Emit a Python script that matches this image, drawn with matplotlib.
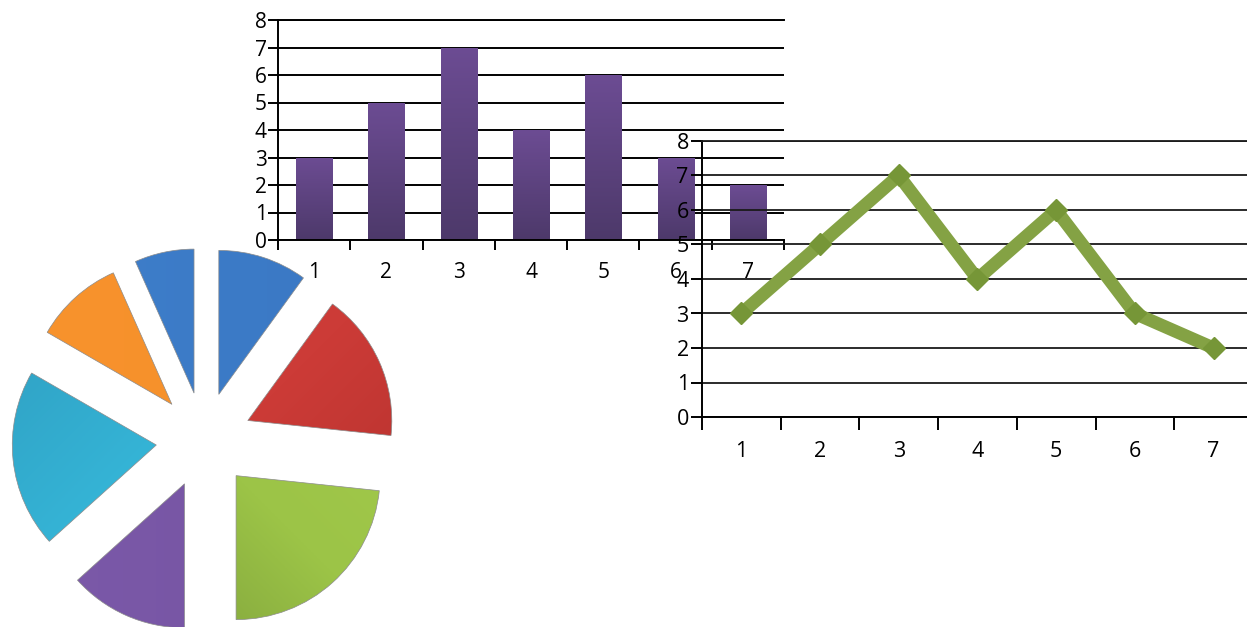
import matplotlib
matplotlib.use('Agg')
import matplotlib.pyplot as plt
import numpy as np
from matplotlib.colors import LinearSegmentedColormap

# ---------------- data ----------------
categories = ['1', '2', '3', '4', '5', '6', '7']
bar_values = [3, 5, 7, 4, 6, 3, 2]
line_values = [3, 5, 7, 4, 6, 3, 2]
pie_values = [3, 5, 7, 4, 6, 3, 2]
y_ticks = [0, 1, 2, 3, 4, 5, 6, 7, 8]
y_tick_labels = ['0', '1', '2', '3', '4', '5', '6', '7', '8']

# ---------------- style ----------------
pie_grads = [
    ['#3c7cca', '#3b79c4'],
    ['#d03e3a', '#cc3b37', '#b6322e'],
    ['#7a9b39', '#9cc447', '#a3ca4c'],
    ['#7b59a9', '#7654a2'],
    ['#2f9fc2', '#35b4d6', '#36b6d8'],
    ['#f8932d', '#f58f2a'],
    ['#3e7ecb', '#3b79c4'],
]
pie_grad_angles = [0, -45, 45, 0, -45, 0, 0]
bar_grad = ['#4d396a', '#6c4c93']
line_color = '#84a244'
marker_color = '#769637'

W, H = 1247, 627
plt.rcParams['font.family'] = ['Open Sans', 'DejaVu Sans']
fig = plt.figure(figsize=(W / 100, H / 100), dpi=100)


def px_axes(left, top, right, bottom, z):
    ax = fig.add_axes([left / W, 1 - bottom / H, (right - left) / W, (bottom - top) / H])
    ax.set_zorder(z)
    ax.patch.set_visible(False)
    return ax


def grad_image(ax, clip_patch, colors, angle_deg, extent, z):
    n = 200
    xs = np.linspace(0, 1, n)
    X, Y = np.meshgrid(xs, xs)
    a = np.deg2rad(angle_deg)
    t = X * np.cos(a) + Y * np.sin(a)
    t = (t - t.min()) / (t.max() - t.min() + 1e-12)
    cmap = LinearSegmentedColormap.from_list('g', colors)
    im = ax.imshow(t, cmap=cmap, extent=extent, origin='lower', aspect='auto',
                   interpolation='bilinear', zorder=z)
    im.set_clip_path(clip_patch)
    return im


# ---------------- pie ----------------
cx, cy, rpx = 204, 440, 144
axp = px_axes(0, 240, 400, 627, 0)
wedges, _ = axp.pie(pie_values, startangle=90, counterclock=False,
                    explode=[0.333] * len(pie_values), radius=1,
                    colors=[g[0] for g in pie_grads],
                    wedgeprops=dict(edgecolor='#8c8c8c', linewidth=0.5))
for w, g, ang in zip(wedges, pie_grads, pie_grad_angles):
    wx, wy = w.center
    r = w.r
    grad_image(axp, w, g, ang, [wx - r, wx + r, wy - r, wy + r], 1)
    w.set_facecolor('none')
    w.set_zorder(2)
axp.set_xlim((0 - cx) / rpx, (400 - cx) / rpx)
axp.set_ylim(-(627 - cy) / rpx, (cy - 240) / rpx)
axp.set_aspect('auto')
axp.axis('off')

# ---------------- bar chart ----------------
bx0, bx1, by8, by0 = 278, 784, 20, 240
axb = px_axes(bx0, by8, bx1, by0, 1)
x = np.arange(1, len(categories) + 1)
bars = axb.bar(x, bar_values, width=0.5, color=bar_grad[1], zorder=2)
for b in bars:
    bxl = b.get_x()
    grad_image(axb, b, bar_grad, 90, [bxl, bxl + b.get_width(), 0, b.get_height()], 2.5)
axb.set_xlim(0.5, len(categories) + 0.5)
axb.set_ylim(0, 8)
axb.set_yticks(y_ticks)
axb.set_yticklabels(y_tick_labels)
axb.set_xticks(x)
axb.set_xticklabels(categories)
axb.set_xticks(np.arange(0.5, len(categories) + 1, 1), minor=True)
axb.tick_params(axis='x', which='major', length=0, pad=16, labelsize=15, colors='black')
axb.tick_params(axis='x', which='minor', length=7, width=1.4, direction='out', color='black')
axb.tick_params(axis='y', which='major', length=7, width=1.4, pad=1, labelsize=15, colors='black')
axb.yaxis.grid(True, color='black', linewidth=1.4)
axb.set_axisbelow(True)
axb.spines['right'].set_visible(False)
axb.spines['top'].set_linewidth(1.4)
axb.spines['left'].set_linewidth(1.4)
axb.spines['bottom'].set_linewidth(1.4)

# ---------------- line chart ----------------
lx0, step, ly8, ly0 = 702, 78.7, 141, 417
axl = px_axes(lx0, ly8, lx0 + step * len(categories), ly0, 2)
axl.plot(x, line_values, color=line_color, linewidth=9.3, solid_joinstyle='miter',
         solid_capstyle='butt', marker='D', markersize=11.5,
         markerfacecolor=marker_color, markeredgecolor=marker_color, zorder=3)
axl.set_xlim(0.5, len(categories) + 0.5)
axl.set_ylim(0, 8)
axl.set_yticks(y_ticks)
axl.set_yticklabels(y_tick_labels)
axl.set_xticks(x)
axl.set_xticklabels(categories)
axl.set_xticks(np.arange(0.5, len(categories) + 1, 1), minor=True)
axl.tick_params(axis='x', which='major', length=0, pad=17, labelsize=15.5, colors='black')
axl.tick_params(axis='x', which='minor', length=9, width=1.4, direction='out', color='black')
axl.tick_params(axis='y', which='major', length=8, width=1.4, pad=1.5, labelsize=15.5, colors='black')
axl.yaxis.grid(True, color='#1a1a1a', linewidth=1.3)
axl.set_axisbelow(True)
axl.spines['right'].set_visible(False)
axl.spines['top'].set_linewidth(1.3)
axl.spines['top'].set_color('#1a1a1a')
axl.spines['left'].set_linewidth(1.4)
axl.spines['bottom'].set_linewidth(1.4)

fig.savefig('out.png', dpi=100)
